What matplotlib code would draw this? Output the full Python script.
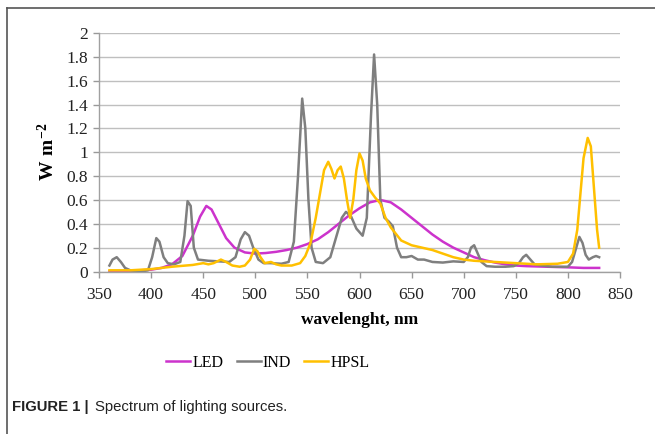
import matplotlib
matplotlib.use("Agg")
import matplotlib.pyplot as plt
from matplotlib.lines import Line2D
import numpy as np

# ---- data ----
led_wl = [360, 380, 400, 410, 420, 430, 440, 447, 453, 458, 465, 472, 480, 490, 500, 510, 520,
          530, 540, 550, 560, 570, 580, 590, 600, 610, 620, 630, 640, 650, 660, 670, 680, 690,
          700, 710, 720, 730, 740, 750, 760, 780, 800, 815, 830]
led_val = [0.0, 0.005, 0.015, 0.03, 0.06, 0.13, 0.3, 0.46, 0.55, 0.52, 0.4, 0.28, 0.2, 0.16,
           0.15, 0.155, 0.165, 0.18, 0.2, 0.23, 0.27, 0.33, 0.4, 0.47, 0.53, 0.58, 0.6, 0.58,
           0.52, 0.45, 0.38, 0.31, 0.25, 0.2, 0.16, 0.12, 0.095, 0.075, 0.06, 0.05, 0.045,
           0.04, 0.035, 0.03, 0.03]

ind_wl = [360, 363, 367, 371, 375, 380, 390, 397, 401, 405, 408, 412, 416, 422, 428, 432,
          435, 438, 441, 445, 455, 465, 475, 481, 486, 490, 494, 498, 503, 508, 515, 525, 532,
          537, 541, 545, 548, 551, 554, 558, 565, 572, 578, 583, 587, 592, 597, 603, 607, 611,
          614, 617, 620, 624, 628, 632, 636, 640, 645, 650, 656, 662, 670, 680, 690, 700, 704,
          707, 710, 713, 717, 722, 730, 740, 748, 753, 757, 760, 764, 768, 775, 785, 795, 800,
          804, 808, 811, 814, 817, 820, 824, 827, 830]
ind_val = [0.05, 0.1, 0.12, 0.08, 0.03, 0.01, 0.0, 0.01, 0.12, 0.28, 0.25, 0.12, 0.07, 0.06,
           0.08, 0.3, 0.59, 0.55, 0.2, 0.1, 0.09, 0.085, 0.08, 0.12, 0.27, 0.33, 0.3, 0.2, 0.1,
           0.07, 0.07, 0.065, 0.08, 0.25, 0.8, 1.45, 1.2, 0.6, 0.2, 0.08, 0.07, 0.12, 0.3, 0.45,
           0.5, 0.46, 0.36, 0.3, 0.45, 1.3, 1.82, 1.4, 0.6, 0.45, 0.42, 0.38, 0.2, 0.12, 0.12,
           0.13, 0.1, 0.1, 0.08, 0.075, 0.085, 0.08, 0.12, 0.2, 0.22, 0.16, 0.08, 0.045, 0.04,
           0.04, 0.045, 0.07, 0.12, 0.14, 0.1, 0.06, 0.05, 0.04, 0.04, 0.04, 0.08, 0.2, 0.29,
           0.24, 0.14, 0.1, 0.12, 0.13, 0.12]

hpsl_wl = [360, 380, 400, 420, 440, 450, 455, 460, 467, 472, 478, 485, 490, 495, 499, 502,
           505, 509, 515, 520, 525, 535, 543, 548, 553, 558, 563, 566, 570, 573, 576, 579, 582,
           585, 588, 591, 594, 597, 600, 603, 606, 610, 615, 620, 625, 630, 640, 650, 660, 670,
           680, 690, 700, 710, 730, 750, 770, 790, 800, 805, 809, 812, 815, 819, 822, 825, 828,
           830]
hpsl_val = [0.01, 0.01, 0.02, 0.04, 0.055, 0.07, 0.06, 0.07, 0.1, 0.08, 0.05, 0.04, 0.05,
            0.1, 0.19, 0.17, 0.12, 0.07, 0.08, 0.06, 0.05, 0.05, 0.07, 0.13, 0.24, 0.45, 0.7,
            0.85, 0.92, 0.86, 0.78, 0.85, 0.88, 0.78, 0.6, 0.45, 0.6, 0.85, 0.99, 0.93, 0.78,
            0.68, 0.62, 0.57, 0.45, 0.37, 0.26, 0.22, 0.2, 0.18, 0.15, 0.12, 0.1, 0.09, 0.08,
            0.07, 0.06, 0.065, 0.08, 0.15, 0.35, 0.65, 0.95, 1.12, 1.05, 0.7, 0.35, 0.2]

series = [("LED", led_wl, led_val, "#CC33CC"),
          ("IND", ind_wl, ind_val, "#7F7F7F"),
          ("HPSL", hpsl_wl, hpsl_val, "#FFC000")]

x_ticks = [350, 400, 450, 500, 550, 600, 650, 700, 750, 800, 850]
y_ticks = [0, 0.2, 0.4, 0.6, 0.8, 1, 1.2, 1.4, 1.6, 1.8, 2]
y_tick_labels = ["0", "0.2", "0.4", "0.6", "0.8", "1", "1.2", "1.4", "1.6", "1.8", "2"]

plt.rcParams['font.family'] = 'serif'
plt.rcParams['font.serif'] = ['Liberation Serif', 'DejaVu Serif']
plt.rcParams['mathtext.fontset'] = 'custom'
plt.rcParams['mathtext.rm'] = 'Liberation Serif'
plt.rcParams['mathtext.bf'] = 'Liberation Serif:bold'

fig = plt.figure(figsize=(6.55, 4.34), dpi=100)
ax = fig.add_axes([99/655, 1 - 271.5/434, (620 - 99)/655, (271.5 - 33)/434])

for name, wl, val, col in series:
    ax.plot(wl, val, color=col, lw=1.8, label=name, solid_joinstyle='round')

ax.set_xlim(350, 850)
ax.set_ylim(0, 2)
ax.set_xticks(x_ticks)
ax.set_xticklabels([str(t) for t in x_ticks], family='Liberation Serif')
ax.set_yticks(y_ticks)
ax.set_yticklabels(y_tick_labels, family='Liberation Serif')
ax.tick_params(axis='both', labelsize=12.5, colors='#222222', length=4, width=1,
               direction='out', pad=4)
ax.tick_params(axis='both', color='#999999')
ax.tick_params(axis='x', pad=7)
ax.grid(axis='y', color='#BFBFBF', lw=1)
ax.set_axisbelow(True)
for s in ['top', 'right']:
    ax.spines[s].set_visible(False)
for s in ['left', 'bottom']:
    ax.spines[s].set_color('#A0A0A0')
    ax.spines[s].set_linewidth(1)

ax.set_xlabel("wavelenght, nm", fontsize=12.5, fontweight='bold', labelpad=7)
ax.set_ylabel("$\\mathbf{W\\ m^{-2}}$", fontsize=14, labelpad=6)

leg = fig.legend(loc='center', bbox_to_anchor=(268/655, 1 - 363/434), ncol=3, frameon=False,
                 fontsize=11.5, handlelength=1.5, handletextpad=0.15, columnspacing=0.8)

# frame
fig.add_artist(Line2D([7/655, 1], [1 - 8/434, 1 - 8/434], color='#555555', lw=1.2))
fig.add_artist(Line2D([7/655, 7/655], [0, 1 - 8/434], color='#555555', lw=1.2))

# caption
t1 = fig.text(12/655, 1 - 407/434, "FIGURE 1 |", fontsize=10.7, fontweight='bold',
              family='Liberation Sans', va='center', ha='left', color='#222222')
fig.canvas.draw()
bb = t1.get_window_extent()
fig.text((bb.x1 + 6) / 655, 1 - 407/434, "Spectrum of lighting sources.", fontsize=10.7,
         family='Liberation Sans', va='center', ha='left', color='#222222')

fig.savefig("out.png", dpi=100)
